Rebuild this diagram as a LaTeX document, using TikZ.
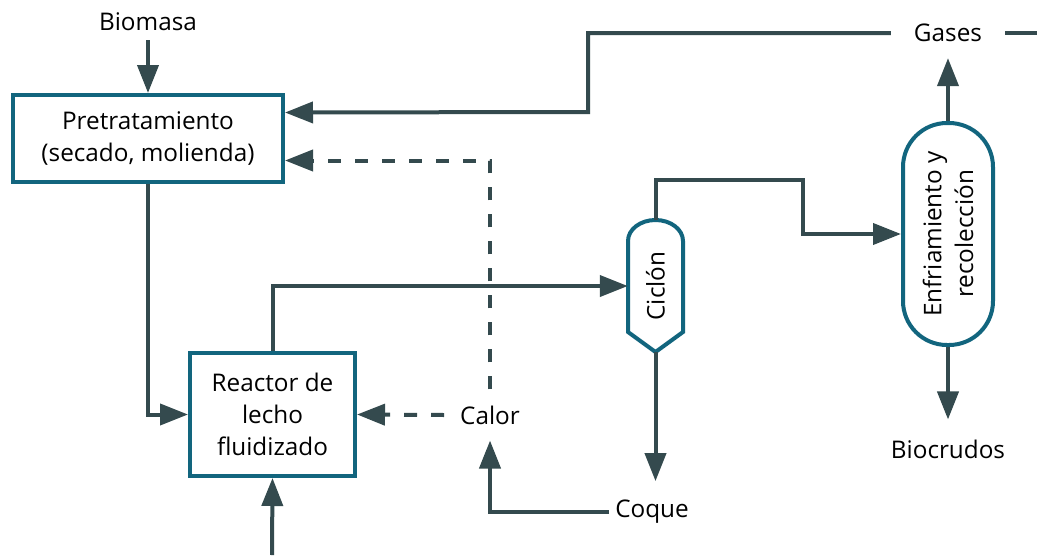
\documentclass[tikz,border=0pt]{standalone}
\usepackage{fontspec}
\setmainfont{Open Sans}
\usetikzlibrary{arrows.meta}
\definecolor{borde}{RGB}{18,101,126}
\definecolor{gris}{RGB}{52,74,78}
\begin{document}
\begin{tikzpicture}[x=1pt, y=-1pt,
  every node/.style={font=\fontsize{24.3}{31.8}\selectfont, align=center},
  caja/.style={draw=borde, line width=4pt, fill=white, inner sep=0pt},
  contorno/.style={draw=borde, line width=4pt, fill=white},
  flecha/.style={draw=gris, line width=4pt, -{Triangle[length=28pt,width=21pt]}},
  tramo/.style={draw=gris, line width=4pt},
  discont/.style={dash pattern=on 13pt off 14pt}]
  \fill[white] (0,0) rectangle (1037,555);
  \useasboundingbox (0,0) rectangle (1037,555);
  % equipos
  \node[caja, minimum width=270pt, minimum height=87pt] (pre) at (148,138.5) {Pretratamiento\\(secado, molienda)};
  \node[caja, minimum width=165pt, minimum height=123pt] (reactor) at (272.5,414.5) {Reactor de\\lecho\\fluidizado};
  \node[inner sep=0pt, minimum width=55pt, minimum height=132pt] (ciclon) at (655.5,286) {};
  \draw[contorno] (628,241) .. controls (628,229.4) and (640.3,220) .. (655.5,220)
    .. controls (670.7,220) and (683,229.4) .. (683,241) -- (683,332) -- (655.5,352) -- (628,332) -- cycle;
  \node[rotate=90] at (ciclon) {Ciclón};
  \node[contorno, rounded corners=44pt, minimum width=90pt, minimum height=222pt] (enfriam) at (948,234) {};
  \node[rotate=90] at (enfriam) {Enfriamiento y\\recolección};
  % corrientes
  \node[inner ysep=9pt] (biomasa) at (148,22) {Biomasa};
  \node[inner xsep=23pt, inner ysep=16pt] (gases) at (948,33) {Gases};
  \node[inner ysep=20pt] (biocrudos) at (948,449) {Biocrudos};
  \node[inner xsep=6pt, inner ysep=19pt] (coque) at (652,512) {Coque};
  \node[inner sep=16pt] (calor) at (490,415) {Calor};
  \coordinate (retorno) at (588,112);
  \coordinate (codo) at (803,180);
  \coordinate (borde) at (1037,33);
  \coordinate (entrada) at (272,555);
  \draw[flecha] (biomasa) -- (pre);
  \draw[flecha] (gases.west) -| (retorno) -- ([yshift=26pt]pre.east);
  \draw[flecha, discont] (calor.north) |- ([yshift=-22pt]pre.east);
  \draw[flecha] (pre.south) |- (reactor.west);
  \draw[flecha] (reactor.north) |- (ciclon.west);
  \draw[flecha] (ciclon.north) |- (codo) |- (enfriam.west);
  \draw[flecha] (enfriam.north) -- (gases.south);
  \draw[tramo] (gases.east) -- (borde);
  \draw[flecha] (enfriam.south) -- (biocrudos.north);
  \draw[flecha] (ciclon.south) -- (ciclon.south |- coque.north);
  \draw[flecha] (coque.west) -| (calor.south);
  \draw[flecha, discont] (calor.west) -- (reactor.east);
  \draw[flecha] (entrada) -- (reactor.south);
\end{tikzpicture}
\end{document}
